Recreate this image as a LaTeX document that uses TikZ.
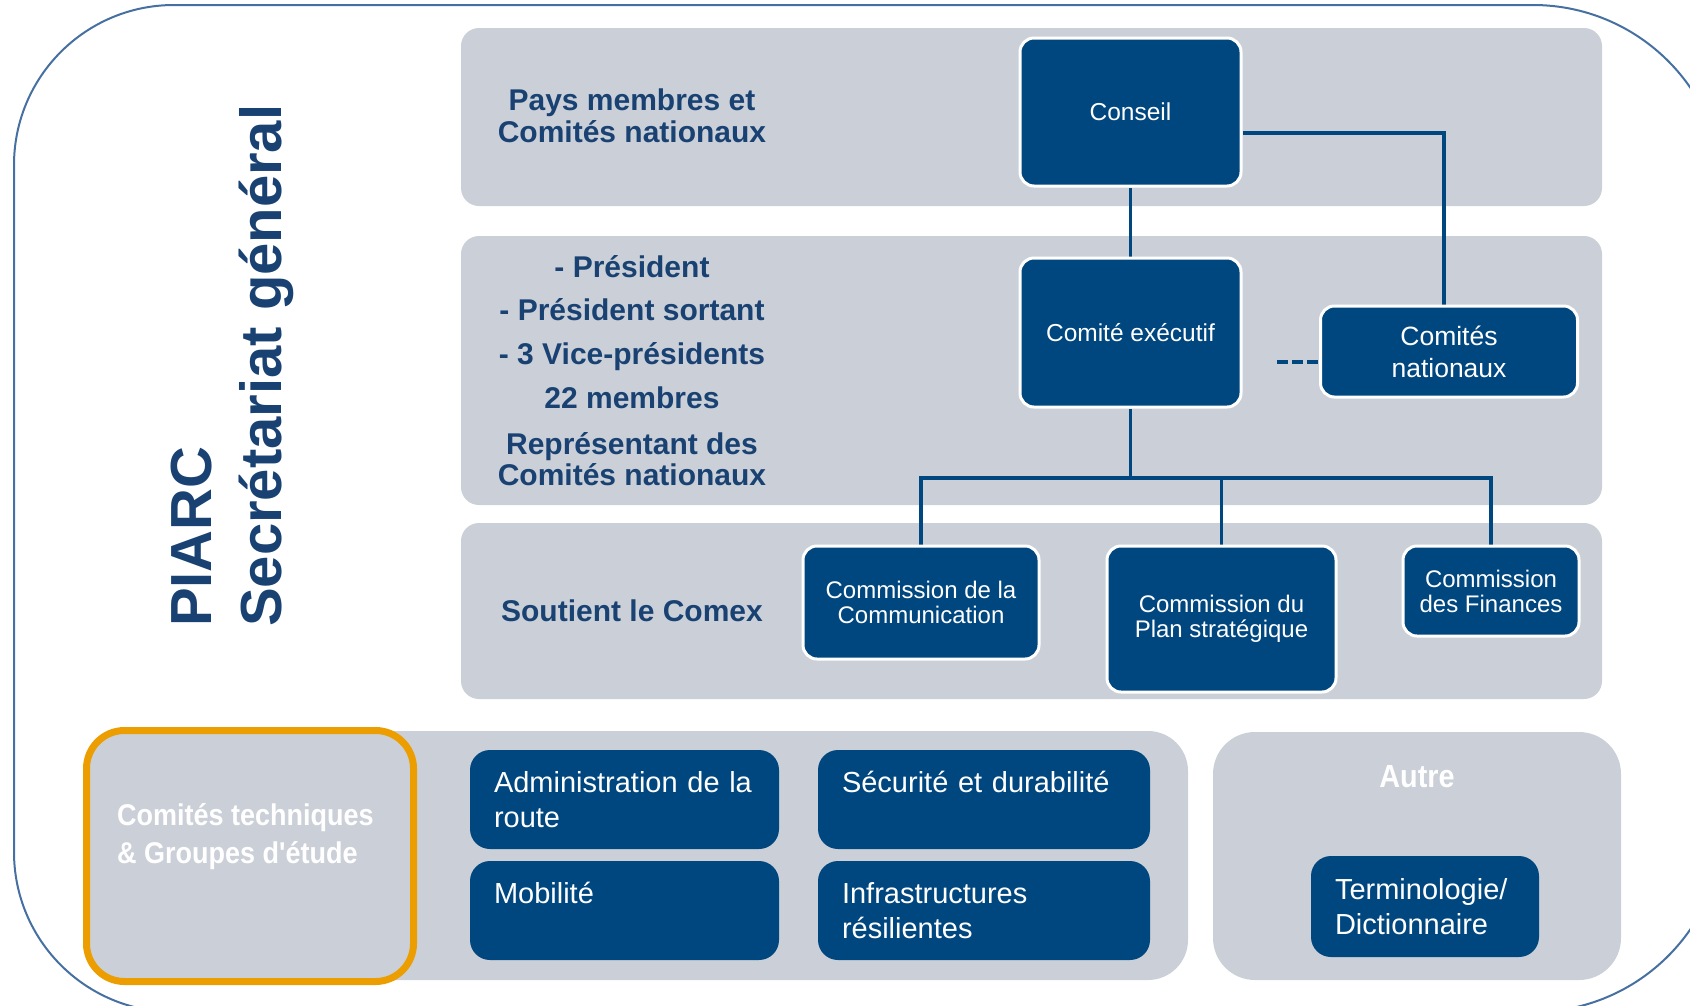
\documentclass[tikz,border=0pt]{standalone}
\usepackage{fontspec}
\setmainfont{Liberation Sans}
\newfontfamily\narrowsans[FakeStretch=0.9]{Liberation Sans}
\definecolor{boxblue}{RGB}{0,70,127}
\definecolor{bandgrey}{RGB}{203,208,216}
\definecolor{titleblue}{RGB}{25,66,115}
\definecolor{frameblue}{RGB}{70,112,162}
\definecolor{tcorange}{RGB}{236,157,0}
\pgfdeclarelayer{back}
\pgfdeclarelayer{mid}
\pgfsetlayers{back,mid,main}
\newcommand\fsConseil{\fontsize{24.5pt}{29pt}\selectfont}
\newcommand\fsNat{\fontsize{26.5pt}{32pt}\selectfont}
\newcommand\fsComm{\fontsize{24pt}{25pt}\selectfont}
\newcommand\fsTitle{\fontsize{30pt}{31.5pt}\selectfont}
\newcommand\fsVert{\fontsize{58pt}{66pt}\selectfont}
\newcommand\fsBox{\fontsize{29pt}{35pt}\selectfont}
\newcommand\fsTC{\narrowsans\bfseries\fontsize{30pt}{38pt}\selectfont}
\newcommand\fsAutre{\narrowsans\bfseries\fontsize{32pt}{38pt}\selectfont}
\begin{document}
\begin{tikzpicture}[x=1pt,y=-1pt,
  orgbox/.style={draw=white, line width=3pt, fill=boxblue, rounded corners=14pt, text=white, align=center, inner sep=0pt},
  tcbox/.style={fill=boxblue, rounded corners=20pt, text=white, align=left, inner xsep=24pt, inner ysep=0pt, font=\fsBox},
  conn/.style={draw=boxblue, line width=3.5pt},
  band/.style={fill=bandgrey, rounded corners=18pt},
  bandtitle/.style={text=titleblue, font=\bfseries\fsTitle, align=center, inner sep=0pt},
  vtitle/.style={text=titleblue, font=\bfseries\fsVert, rotate=90, anchor=base west, inner sep=0pt},
  greytitle/.style={text=white, inner sep=0pt}
]
\useasboundingbox (0,0) rectangle (1690,1005);

\begin{pgfonlayer}{back}
  \draw[frameblue, line width=2pt] (14,500) [rounded corners=160pt] -- (14,5) -- (800,5) [rounded corners=191pt] -- (1724,5) -- (1724,1012) -- (800,1012) [rounded corners=160pt] -- (14,1012) -- cycle;
  \path[band] (461,28) rectangle (1602,206);
  \path[band] (461,236) rectangle (1602,505);
  \path[band] (461,523) rectangle (1602,699);
  \path[fill=bandgrey, rounded corners=40pt] (120,731) rectangle (1188,980);
  \path[fill=bandgrey, rounded corners=42pt] (1213,732) rectangle (1621,980);
\end{pgfonlayer}

% organisation boxes
\node[orgbox, minimum width=221pt, minimum height=148pt, font=\fsConseil] (conseil) at (1130.5,112) {Conseil};
\node[orgbox, minimum width=221pt, minimum height=149pt, font=\fsConseil] (exec) at (1130.5,332.5) {Comité exécutif};
\node[orgbox, minimum width=257pt, minimum height=91pt, font=\fsNat] (nat) at (1449,351.5) {Comités\\nationaux};
\node[orgbox, minimum width=236pt, minimum height=113pt, font=\fsComm] (comm) at (921,602.5) {Commission de la\\Communication};
\node[orgbox, minimum width=229pt, minimum height=146pt, font=\fsComm] (plan) at (1221.5,619) {Commission du\\Plan stratégique};
\node[orgbox, minimum width=176pt, minimum height=90pt, font=\fsComm] (fin) at (1491,591) {Commission\\des Finances};

% band titles
\node[bandtitle] (membres) at (632,116) {Pays membres et\\Comités nationaux};
\node[bandtitle, anchor=north] (comex) at (632,255) {- Président\\[12pt]- Président sortant\\[12pt]- 3 Vice-présidents\\[13pt]22 membres\\[14pt]Représentant des\\Comités nationaux};
\node[bandtitle, anchor=base] (soutient) at (632,621) {Soutient le Comex};

% vertical title
\node[vtitle] (piarc) at (211,627) {PIARC};
\node[vtitle] (secgen) at (281,627) {Secrétariat général};

% technical committees
\node[draw=tcorange, line width=7pt, fill=bandgrey, rounded corners=38pt, minimum width=327pt, minimum height=251pt, inner sep=0pt] (tcg) at (250,856) {};
\node[greytitle, anchor=north west, align=left, font=\fsTC] (tctext) at (117,803) {Comités techniques\\\& Groupes d'étude};
\node[greytitle, anchor=base, font=\fsAutre] (autre) at (1417,787) {Autre};

\node[tcbox, minimum width=309pt, minimum height=99pt, text width=261pt] (admin) at (624.5,799.5) {Administration de la\\route};
\node[tcbox, minimum width=332pt, minimum height=99pt, text width=284pt] (secu) at (984,799.5) {Sécurité et durabilité\\\mbox{}};
\node[tcbox, minimum width=309pt, minimum height=99pt, text width=261pt] (mob) at (624.5,910.5) {Mobilité\\\mbox{}};
\node[tcbox, minimum width=332pt, minimum height=99pt, text width=284pt] (infra) at (984,910.5) {Infrastructures\\résilientes};
\node[tcbox, minimum width=228pt, minimum height=101pt, text width=180pt] (termi) at (1425,906.5) {Terminologie/\\Dictionnaire};

% connectors
\begin{pgfonlayer}{mid}
  \draw[conn] (conseil.south) -- (exec.north);
  \draw[conn] ([yshift=-21pt]conseil.east) -| ([xshift=-5pt]nat.north);
  \coordinate (dashend) at (1277,362);
  \draw[conn, dash pattern=on 11pt off 4pt] (dashend) -- (dashend -| nat.west);
  \coordinate (bus) at (0,478);
  \draw[conn] (exec.south) -- (exec.south |- bus);
  \draw[conn] (comm.north) -- (comm.north |- bus) -- (fin.north |- bus) -- (fin.north);
  \draw[conn] (plan.north) -- (plan.north |- bus);
\end{pgfonlayer}
\end{tikzpicture}
\end{document}
